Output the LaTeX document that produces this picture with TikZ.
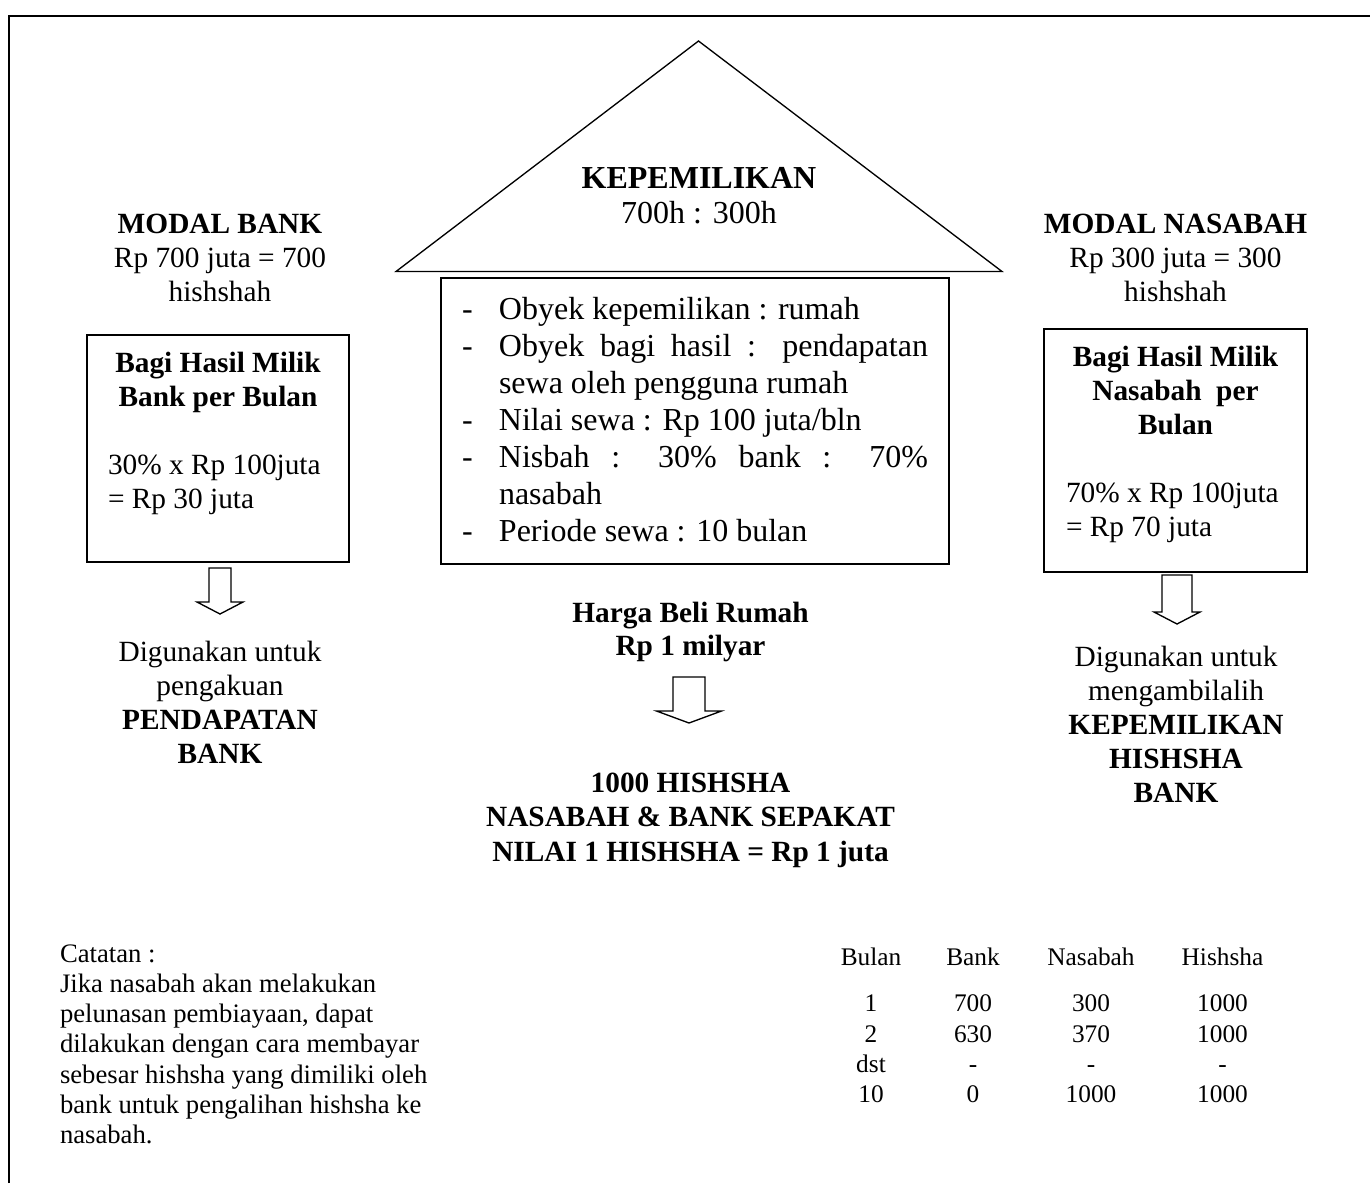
\documentclass[tikz,border=0pt]{standalone}
\usepackage{fontspec}
\setmainfont{Liberation Serif}
\newlength\px \setlength\px{0.75pt}
\tikzset{
  every node/.style={inner sep=0pt, outer sep=0pt},
  mainfont/.style={font=\fontsize{22}{25.5}\selectfont},
  bigfont/.style={font=\fontsize{24}{27.8}\selectfont},
  roofont/.style={font=\fontsize{24}{26.6}\selectfont},
  notefont/.style={font=\fontsize{20}{22.7}\selectfont},
  tabfont/.style={font=\fontsize{19}{22.7}\selectfont},
  frameline/.style={line width=1.8pt},
  boxline/.style={draw, line width=1.3pt, anchor=north west},
  roofline/.style={line width=1pt, line join=miter},
  hollow/.style={line width=1pt, line join=miter},
  txt/.style={anchor=base},
  txtl/.style={anchor=base west},
}
\newcommand\hollowdown[6]{%
  \draw[hollow] ({#1-#5},#2) -- ({#1+#5},#2) -- ({#1+#5},#3) -- ({#1+#6},#3)
    -- (#1,#4) -- ({#1-#6},#3) -- ({#1-#5},#3) -- cycle;}
\begin{document}
\begin{tikzpicture}[x=0.75pt,y=-0.75pt]
\useasboundingbox (0,0) rectangle (1370,1183);
% outer frame (cut off at right and bottom)
\draw[frameline] (9,1183) -- (9,16) -- (1370,16);

% ---------- left column ----------
\node[mainfont, txt] (modalbank) at (220,233) {\begin{tabular}[t]{@{}c@{}}\textbf{MODAL BANK}\\Rp 700 juta = 700\\hishshah\end{tabular}};
\node[boxline, minimum width=262\px, minimum height=227\px] (bankbox) at (87,335) {};
\node[mainfont, txt] (bankbh) at (218,372.6) {\begin{tabular}[t]{@{}c@{}}\textbf{Bagi Hasil Milik}\\\textbf{Bank per Bulan}\end{tabular}};
\node[mainfont, txtl] (bankcalc) at (108,474) {\begin{tabular}[t]{@{}l@{}}30\% x Rp 100juta\\= Rp 30 juta\end{tabular}};
\hollowdown{220}{568}{602}{614}{11}{23}
\node[mainfont, txt] (bankuse) at (220,661.6) {\begin{tabular}[t]{@{}c@{}}Digunakan untuk\\pengakuan\\\textbf{PENDAPATAN}\\\textbf{BANK}\end{tabular}};

% ---------- centre ----------
\coordinate (roofL) at (396,271.5);
\coordinate (roofT) at (698.5,41);
\coordinate (roofR) at (1002,271.5);
\draw[roofline] (roofL) -- (roofT) -- (roofR) -- cycle;
\node[roofont, txt] (kep) at (699,188.5) {\begin{tabular}[t]{@{}c@{}}\textbf{KEPEMILIKAN}\\700h : 300h\end{tabular}};
\node[boxline, minimum width=508\px, minimum height=286\px] (centerbox) at (441,278) {};
\node[bigfont, txtl] (list) at (462,319) {\begin{tabular}[t]{@{}l@{}l@{}}
\makebox[37\px][l]{-} & Obyek kepemilikan : rumah\\
- & \makebox[429\px][s]{Obyek bagi hasil : pendapatan}\\
 & sewa oleh pengguna rumah\\
- & Nilai sewa : Rp 100 juta/bln\\
- & \makebox[429\px][s]{Nisbah : 30\% bank : 70\%}\\
 & nasabah\\
- & Periode sewa : 10 bulan
\end{tabular}};
\node[font=\fontsize{22}{24.75}\selectfont, txt] (harga) at (690.5,622) {\begin{tabular}[t]{@{}c@{}}\textbf{Harga Beli Rumah}\\\textbf{Rp 1 milyar}\end{tabular}};
\hollowdown{689}{677}{711}{723}{16}{32.5}
\node[font=\fontsize{22}{26.2}\selectfont, txt] (hishsha) at (690.5,792) {\begin{tabular}[t]{@{}c@{}}\textbf{1000 HISHSHA}\\\textbf{NASABAH \& BANK SEPAKAT}\\\textbf{NILAI 1 HISHSHA = Rp 1 juta}\end{tabular}};

% ---------- right column ----------
\node[mainfont, txt] (modalnas) at (1175.5,233) {\begin{tabular}[t]{@{}c@{}}\textbf{MODAL NASABAH}\\Rp 300 juta = 300\\hishshah\end{tabular}};
\node[boxline, minimum width=263\px, minimum height=243\px] (nasbox) at (1044,329) {};
\node[mainfont, txt] (nasbh) at (1175.5,366) {\begin{tabular}[t]{@{}c@{}}\textbf{Bagi Hasil Milik}\\\textbf{Nasabah\ \ per}\\\textbf{Bulan}\end{tabular}};
\node[mainfont, txtl] (nascalc) at (1066,502) {\begin{tabular}[t]{@{}l@{}}70\% x Rp 100juta\\= Rp 70 juta\end{tabular}};
\hollowdown{1177}{575}{612}{624}{15}{23}
\node[mainfont, txt] (nasuse) at (1176,666.3) {\begin{tabular}[t]{@{}c@{}}Digunakan untuk\\mengambilalih\\\textbf{KEPEMILIKAN}\\\textbf{HISHSHA}\\\textbf{BANK}\end{tabular}};

% ---------- notes ----------
\node[notefont, txtl] (notes) at (60,962) {\begin{tabular}[t]{@{}l@{}}Catatan :\\Jika nasabah akan melakukan\\pelunasan pembiayaan, dapat\\dilakukan dengan cara membayar\\sebesar hishsha yang dimiliki oleh\\bank untuk pengalihan hishsha ke\\nasabah.\end{tabular}};

% ---------- table ----------
\node[tabfont, txt] (colbulan) at (871,965) {\begin{tabular}[t]{@{}c@{}}Bulan\\[16.7\px]1\\2\\dst\\10\end{tabular}};
\node[tabfont, txt] (colbank) at (973,965) {\begin{tabular}[t]{@{}c@{}}Bank\\[16.7\px]700\\630\\-\\0\end{tabular}};
\node[tabfont, txt] (colnas) at (1091,965) {\begin{tabular}[t]{@{}c@{}}Nasabah\\[16.7\px]300\\370\\-\\1000\end{tabular}};
\node[tabfont, txt] (colhis) at (1222.5,965) {\begin{tabular}[t]{@{}c@{}}Hishsha\\[16.7\px]1000\\1000\\-\\1000\end{tabular}};
\end{tikzpicture}
\end{document}
